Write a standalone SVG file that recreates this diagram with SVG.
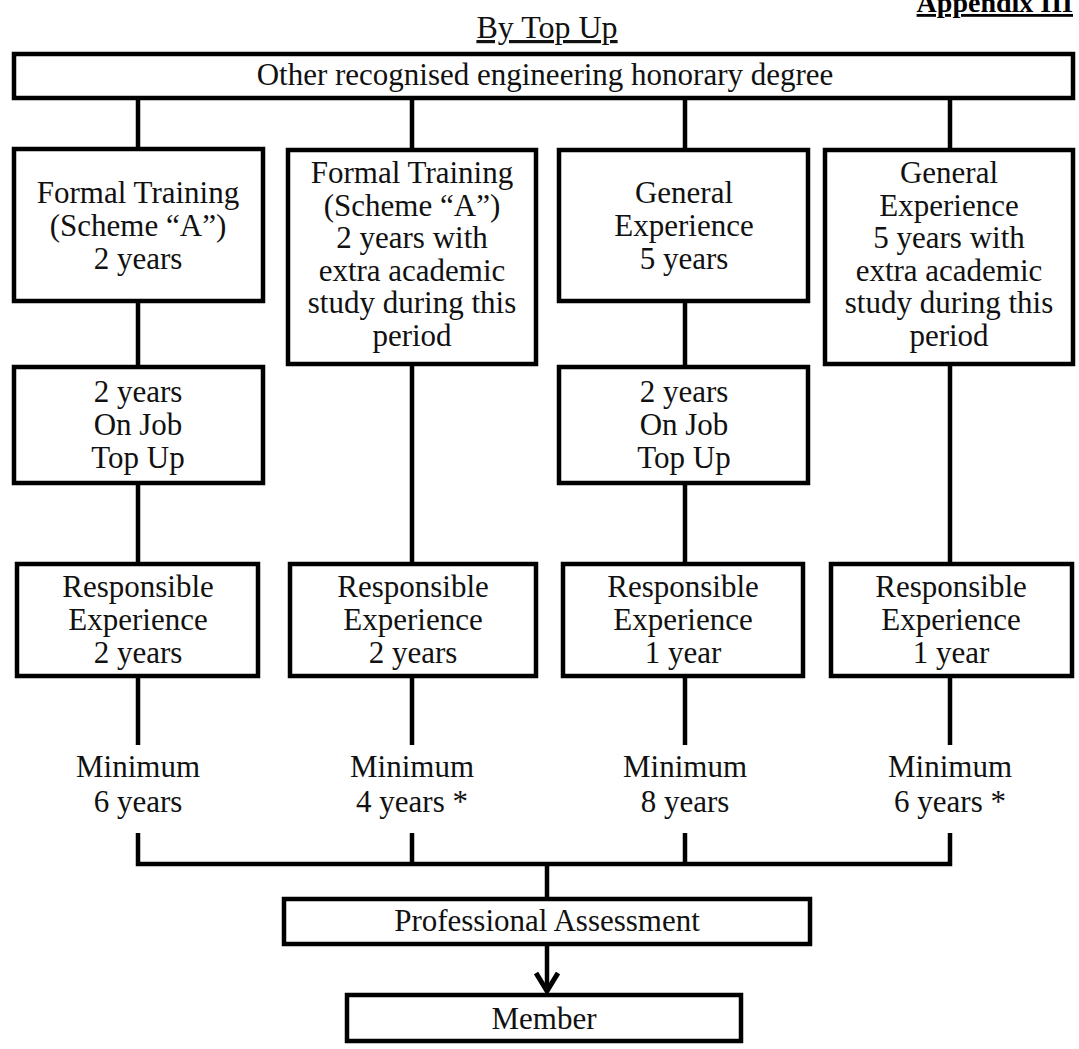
<svg xmlns="http://www.w3.org/2000/svg" width="1079" height="1049" viewBox="0 0 1079 1049">
<defs>
<style>
.bx{fill:#fff;stroke:#000;stroke-width:4.5}
.ln{fill:none;stroke:#000;stroke-width:4.5}
.t{font-family:"Liberation Serif","Times New Roman",serif;font-size:31px;fill:#111;text-anchor:middle}
.ttl{font-family:"Liberation Serif","Times New Roman",serif;font-size:32px;fill:#111;text-anchor:middle;text-decoration:underline}
.app{font-family:"Liberation Serif","Times New Roman",serif;font-size:28px;font-weight:bold;fill:#000;text-anchor:end;text-decoration:underline}
</style>
<marker id="arr" viewBox="0 0 22 26" markerWidth="22" markerHeight="26" refX="19" refY="13" orient="auto" markerUnits="userSpaceOnUse">
<path d="M1,2 L19,13 L1,24" fill="none" stroke="#000" stroke-width="5"/>
</marker>
</defs>
<rect width="1079" height="1049" fill="#fff"/>
<text class="app" x="1073" y="12">Appendix III</text>
<text class="ttl" x="547" y="38">By Top Up</text>

<g id="connectors">
<path class="ln" d="M138,100 V147 M412,100 V148 M685,100 V148 M950,100 V148"/>
<path class="ln" d="M138,303 V365 M685,303 V365"/>
<path class="ln" d="M138,485 V562 M412,366 V562 M685,485 V562 M950,366 V562"/>
<path class="ln" d="M138,678 V745 M412,678 V745 M685,678 V745 M950,678 V745"/>
<path class="ln" d="M138,833 V864 H950 V833 M412,833 V864 M685,833 V864 M547,864 V897"/>
<path class="ln" d="M547,946 V991" marker-end="url(#arr)"/>
</g>

<g id="n-top">
<rect class="bx" x="14" y="54" width="1059" height="44"/>
<text class="t" x="545" y="85">Other recognised engineering honorary degree</text>
</g>

<g id="n-c1r1">
<rect class="bx" x="14" y="149" width="249" height="152"/>
<text class="t" x="138" y="203">Formal Training</text>
<text class="t" x="138" y="236">(Scheme “A”)</text>
<text class="t" x="138" y="269">2 years</text>
</g>
<g id="n-c2r1">
<rect class="bx" x="288" y="150" width="248" height="214"/>
<text class="t" x="412" y="183">Formal Training</text>
<text class="t" x="412" y="215.5">(Scheme “A”)</text>
<text class="t" x="412" y="248">2 years with</text>
<text class="t" x="412" y="280.5">extra academic</text>
<text class="t" x="412" y="313">study during this</text>
<text class="t" x="412" y="345.5">period</text>
</g>
<g id="n-c3r1">
<rect class="bx" x="559" y="150" width="249" height="151"/>
<text class="t" x="684" y="203">General</text>
<text class="t" x="684" y="236">Experience</text>
<text class="t" x="684" y="269">5 years</text>
</g>
<g id="n-c4r1">
<rect class="bx" x="825" y="150" width="248" height="214"/>
<text class="t" x="949" y="183">General</text>
<text class="t" x="949" y="215.5">Experience</text>
<text class="t" x="949" y="248">5 years with</text>
<text class="t" x="949" y="280.5">extra academic</text>
<text class="t" x="949" y="313">study during this</text>
<text class="t" x="949" y="345.5">period</text>
</g>

<g id="n-c1r2">
<rect class="bx" x="14" y="367" width="249" height="116"/>
<text class="t" x="138" y="402">2 years</text>
<text class="t" x="138" y="435">On Job</text>
<text class="t" x="138" y="468">Top Up</text>
</g>
<g id="n-c3r2">
<rect class="bx" x="559" y="367" width="249" height="116"/>
<text class="t" x="684" y="402">2 years</text>
<text class="t" x="684" y="435">On Job</text>
<text class="t" x="684" y="468">Top Up</text>
</g>

<g id="n-c1r3">
<rect class="bx" x="17" y="564" width="241" height="112"/>
<text class="t" x="138" y="597">Responsible</text>
<text class="t" x="138" y="630">Experience</text>
<text class="t" x="138" y="663">2 years</text>
</g>
<g id="n-c2r3">
<rect class="bx" x="290" y="564" width="246" height="112"/>
<text class="t" x="413" y="597">Responsible</text>
<text class="t" x="413" y="630">Experience</text>
<text class="t" x="413" y="663">2 years</text>
</g>
<g id="n-c3r3">
<rect class="bx" x="563" y="564" width="240" height="112"/>
<text class="t" x="683" y="597">Responsible</text>
<text class="t" x="683" y="630">Experience</text>
<text class="t" x="683" y="663">1 year</text>
</g>
<g id="n-c4r3">
<rect class="bx" x="831" y="564" width="241" height="112"/>
<text class="t" x="951" y="597">Responsible</text>
<text class="t" x="951" y="630">Experience</text>
<text class="t" x="951" y="663">1 year</text>
</g>

<g id="n-min1">
<text class="t" x="138" y="777">Minimum</text>
<text class="t" x="138" y="812">6 years</text>
</g>
<g id="n-min2">
<text class="t" x="412" y="777">Minimum</text>
<text class="t" x="412" y="812">4 years *</text>
</g>
<g id="n-min3">
<text class="t" x="685" y="777">Minimum</text>
<text class="t" x="685" y="812">8 years</text>
</g>
<g id="n-min4">
<text class="t" x="950" y="777">Minimum</text>
<text class="t" x="950" y="812">6 years *</text>
</g>

<g id="n-assess">
<rect class="bx" x="284" y="899" width="526" height="45"/>
<text class="t" x="547" y="931">Professional Assessment</text>
</g>
<g id="n-member">
<rect class="bx" x="347" y="995" width="394" height="46"/>
<text class="t" x="544" y="1029">Member</text>
</g>
</svg>
